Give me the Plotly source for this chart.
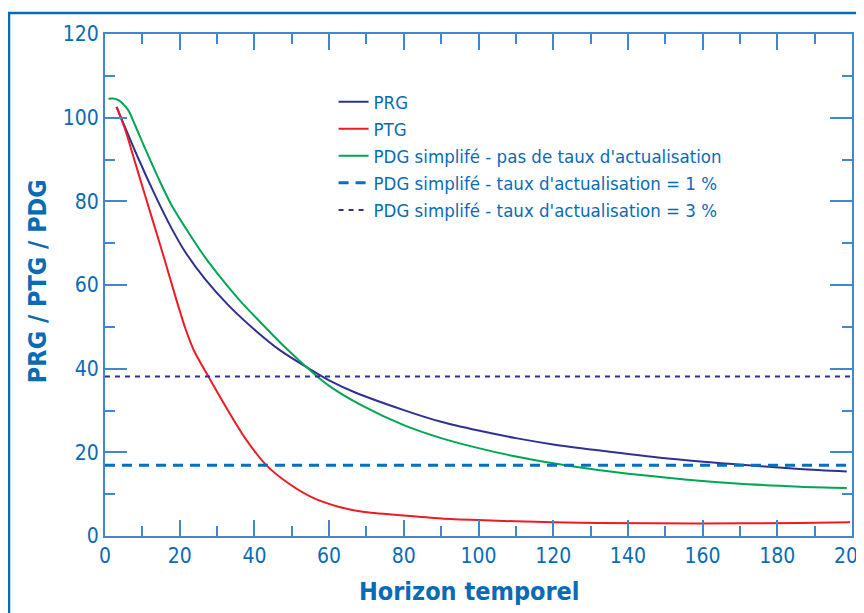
import plotly.graph_objects as go

# ---- data ----
prg_x = [3.1, 8.9, 13.4, 17.8, 21.4, 26.8, 33, 40.2, 47, 55, 60, 67, 80, 90, 100, 110, 120, 132, 150, 168, 186, 198.6]
prg_y = [102.6, 90.3, 81.5, 73.6, 68.0, 61.4, 55.2, 49.2, 44.3, 39.8, 37.2, 34.3, 30.1, 27.3, 25.2, 23.4, 21.9, 20.5, 18.6, 17.2, 16.0, 15.4]

ptg_x = [3.1, 5.35, 8.0, 10.7, 13.4, 16.1, 18.7, 21.4, 22.8, 24.1, 27.7, 31.2, 34.8, 37.5, 43.1, 49.1, 55.3, 62.5, 69, 80, 90, 100, 110, 120, 132, 159, 186, 199.5]
ptg_y = [102.6, 97.3, 89.5, 81.5, 73.6, 65.6, 57.7, 49.9, 46.5, 43.8, 38.1, 32.6, 27.2, 23.4, 17.0, 12.6, 9.3, 7.0, 5.8, 4.9, 4.2, 3.8, 3.5, 3.3, 3.1, 3.0, 3.1, 3.3]

pdg0_x = [0.9, 2.2, 3.6, 6.2, 8.0, 10.7, 14.3, 17.8, 22.3, 26.8, 31.2, 35.7, 40.2, 48.2, 56.2, 60, 69, 80, 90, 100, 110, 120, 132, 150, 168, 186, 198.6]
pdg0_y = [104.5, 104.6, 104.2, 101.8, 98.3, 92.7, 85.5, 79.1, 72.6, 66.6, 61.5, 56.7, 52.4, 45.1, 38.6, 35.9, 31.1, 26.5, 23.4, 21.0, 19.0, 17.4, 15.8, 14.0, 12.6, 11.8, 11.5]

pdg1_x = [0, 199]
pdg1_y = [16.9, 16.9]

pdg3_x = [0, 200]
pdg3_y = [38.1, 38.1]

names = ["PRG", "PTG", "PDG simplifé - pas de taux d'actualisation",
         "PDG simplifé - taux d'actualisation = 1 %",
         "PDG simplifé - taux d'actualisation = 3 %"]

x_ticks = [0, 20, 40, 60, 80, 100, 120, 140, 160, 180, 200]
y_ticks = [0, 20, 40, 60, 80, 100, 120]

BLUE_TXT = "#0A6BB5"
AXIS = "#3F88CF"
FONT = "DejaVu Sans Condensed, sans-serif"

fig = go.Figure()
fig.add_trace(go.Scatter(x=prg_x, y=prg_y, mode="lines", name=names[0],
                         line=dict(color="#2E3192", width=2, shape="spline", smoothing=0.8)))
fig.add_trace(go.Scatter(x=ptg_x, y=ptg_y, mode="lines", name=names[1],
                         line=dict(color="#ED1C24", width=2, shape="spline", smoothing=0.8)))
fig.add_trace(go.Scatter(x=pdg0_x, y=pdg0_y, mode="lines", name=names[2],
                         line=dict(color="#00A651", width=2, shape="spline", smoothing=0.8)))
fig.add_trace(go.Scatter(x=pdg1_x, y=pdg1_y, mode="lines", name=names[3],
                         line=dict(color="#0070C0", width=3, dash="10px,7px")))
fig.add_trace(go.Scatter(x=pdg3_x, y=pdg3_y, mode="lines", name=names[4],
                         line=dict(color="#2E3192", width=2, dash="5px,5px")))

axis_common = dict(
    showline=True, linecolor=AXIS, linewidth=2, mirror="ticks",
    ticks="inside", tickcolor=AXIS, tickwidth=2,
    showgrid=False, zeroline=False, automargin=False,
    ticklabeloverflow="allow",
    tickfont=dict(family=FONT, size=21, color=BLUE_TXT),
)

fig.update_xaxes(range=[0, 200], tickvals=x_ticks, ticktext=[str(v) for v in x_ticks],
                 ticklen=16,
                 minor=dict(dtick=10, tick0=0, ticklen=10, ticks="inside", tickcolor=AXIS, tickwidth=2),
                 **axis_common)
fig.update_yaxes(range=[0, 120], tickvals=y_ticks, ticktext=[str(v) for v in y_ticks],
                 ticklen=22,
                 minor=dict(dtick=10, tick0=0, ticklen=10, ticks="inside", tickcolor=AXIS, tickwidth=2),
                 **axis_common)

# axis titles
fig.add_annotation(text="<b>Horizon temporel</b>", xref="paper", yref="paper",
                   x=0.4886, y=-0.1096, xanchor="center", yanchor="middle", showarrow=False,
                   font=dict(family=FONT, size=25, color=BLUE_TXT))
fig.add_annotation(text="<b>PRG / PTG / PDG</b>", xref="paper", yref="paper",
                   x=-0.0895, y=0.508, xanchor="center", yanchor="middle", showarrow=False,
                   textangle=-90, font=dict(family=FONT, size=25, color=BLUE_TXT))

# outer frame (left and top border)
fig.add_shape(type="path", xref="paper", yref="paper",
              path="M -0.1285,-0.2 L -0.1285,1.0418 L 1.1,1.0418",
              line=dict(color="#0A6BB5", width=2.5))

# the page body has an 8px margin, so the figure is sized/offset to compensate
fig.update_layout(
    width=856, height=605,
    margin=dict(l=97, r=12, t=26, b=77),
    paper_bgcolor="white", plot_bgcolor="white",
    legend=dict(x=0.306, y=0.902, xanchor="left", yanchor="top",
                bgcolor="rgba(0,0,0,0)",
                font=dict(family=FONT, size=18.5, color=BLUE_TXT),
                itemwidth=30, tracegroupgap=0),
    showlegend=True,
)

fig.write_html("out.html")
